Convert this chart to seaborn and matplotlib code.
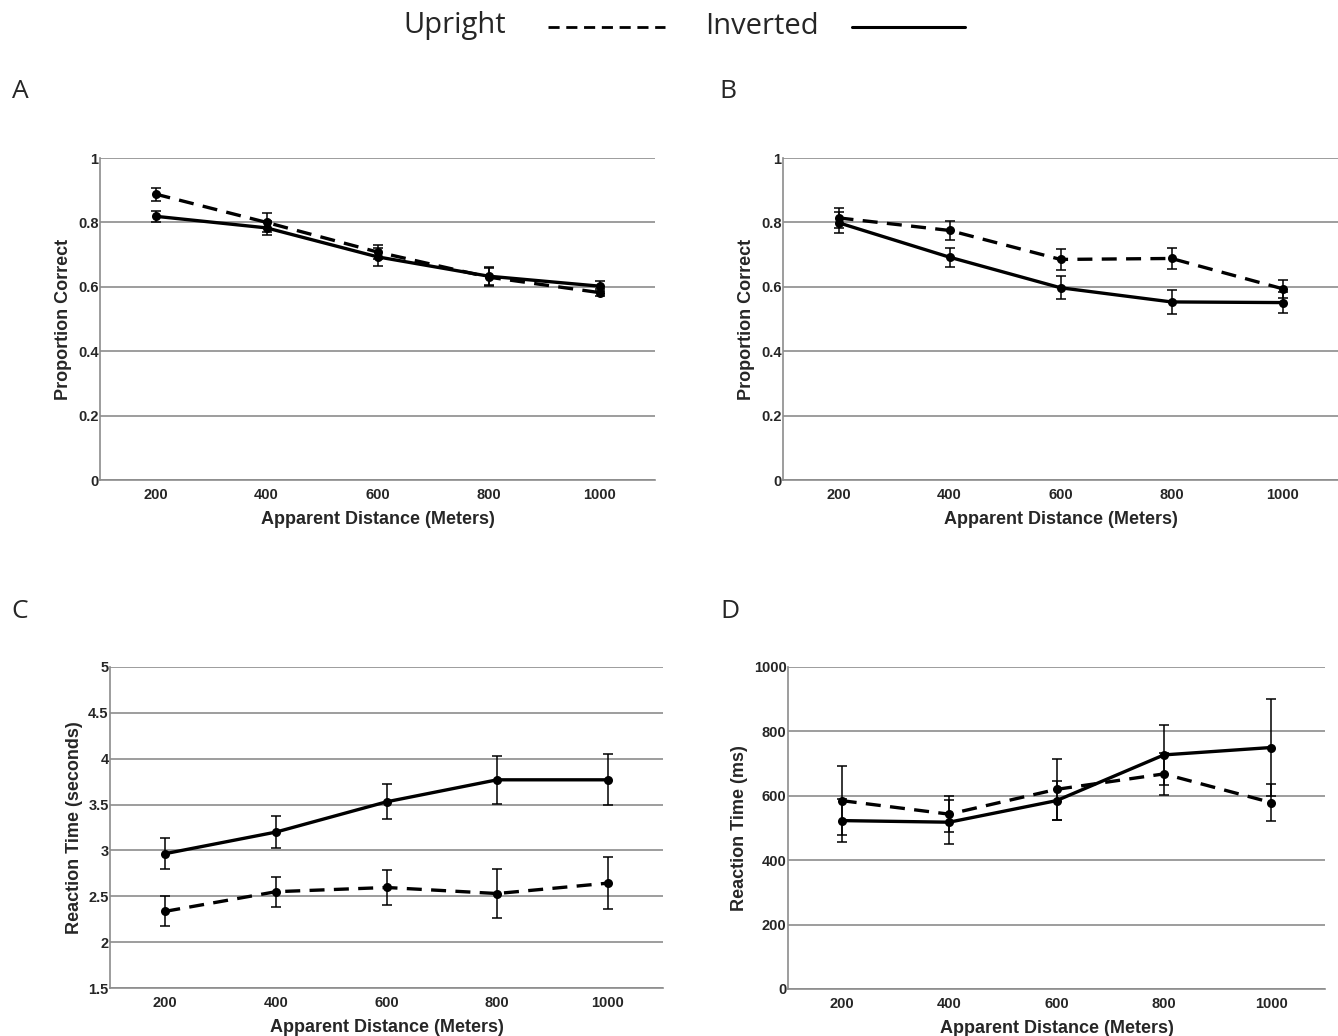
import pandas as pd
import seaborn as sns
import matplotlib.pyplot as plt
from matplotlib.lines import Line2D

distances = [200, 400, 600, 800, 1000]

a_upright = [0.888, 0.800, 0.708, 0.630, 0.582]
a_upright_err = [0.020, 0.030, 0.022, 0.028, 0.012]
a_inverted = [0.819, 0.783, 0.693, 0.633, 0.602]
a_inverted_err = [0.017, 0.022, 0.028, 0.028, 0.015]

b_upright = [0.814, 0.775, 0.685, 0.688, 0.594]
b_upright_err = [0.030, 0.030, 0.033, 0.032, 0.028]
b_inverted = [0.799, 0.692, 0.597, 0.553, 0.551]
b_inverted_err = [0.033, 0.030, 0.036, 0.037, 0.032]

c_upright = [2.336, 2.550, 2.596, 2.530, 2.643]
c_upright_err = [0.165, 0.165, 0.190, 0.265, 0.280]
c_inverted = [2.965, 3.200, 3.530, 3.770, 3.770]
c_inverted_err = [0.170, 0.170, 0.190, 0.260, 0.280]

d_upright = [585, 543, 620, 668, 579]
d_upright_err = [107, 55, 95, 65, 58]
d_inverted = [523, 518, 585, 727, 750]
d_inverted_err = [68, 68, 60, 92, 150]

sns.set_style("white")
plt.rcParams['font.family'] = ['Liberation Sans', 'DejaVu Sans']

TICK_FONT = dict(fontsize=10.5, fontweight='bold')
LABEL_FONT = dict(fontsize=13, fontweight='bold')
GRAY = '#8c8c8c'


def make_frame(up, up_err, inv, inv_err):
    rows = []
    for d, v, e in zip(distances, up, up_err):
        rows.append({'Distance': d, 'Value': v, 'Err': e, 'Orientation': 'Upright'})
    for d, v, e in zip(distances, inv, inv_err):
        rows.append({'Distance': d, 'Value': v, 'Err': e, 'Orientation': 'Inverted'})
    return pd.DataFrame(rows)


def draw_panel(ax, data, ylabel, ylim, yticks, yticklabels):
    for name, grp in data.groupby('Orientation'):
        ax.errorbar(grp['Distance'], grp['Value'], yerr=grp['Err'], fmt='none',
                    ecolor='black', elinewidth=1.1, capsize=3.5, capthick=1.1, zorder=3)
    sns.lineplot(data=data, x='Distance', y='Value', style='Orientation',
                 dashes={'Upright': (4.5, 2.8), 'Inverted': ''},
                 markers={'Upright': 'o', 'Inverted': 'o'},
                 color='black', linewidth=2.4, markersize=6.5, markeredgewidth=0,
                 legend=False, ax=ax, zorder=4)
    ax.set_xlim(100, 1100)
    ax.set_ylim(*ylim)
    ax.set_xticks(distances)
    ax.set_xticklabels([str(d) for d in distances], **TICK_FONT)
    ax.set_yticks(yticks)
    ax.set_yticklabels(yticklabels, **TICK_FONT)
    ax.tick_params(axis='both', length=0, pad=1)
    ax.tick_params(axis='x', pad=6)
    ax.yaxis.grid(True, color=GRAY, linewidth=1.2)
    ax.xaxis.grid(False)
    for side in ['top', 'right']:
        ax.spines[side].set_visible(False)
    for side in ['left', 'bottom']:
        ax.spines[side].set_color(GRAY)
        ax.spines[side].set_linewidth(1.2)
    ax.set_xlabel('Apparent Distance (Meters)', labelpad=6, **LABEL_FONT)
    ax.set_ylabel(ylabel, labelpad=4, **LABEL_FONT)


fig = plt.figure(figsize=(13.38, 10.36), dpi=100)
W, H = 1338, 1036


def add_axes(left, right, top, bottom):
    return fig.add_axes([left / W, 1 - bottom / H, (right - left) / W, (bottom - top) / H])


ax_a = add_axes(100, 655, 158, 480)
ax_b = add_axes(783, 1338, 158, 480)
ax_c = add_axes(110, 663, 667, 988)
ax_d = add_axes(788, 1325, 667, 989)

prop_ticks = [0, 0.2, 0.4, 0.6, 0.8, 1]
prop_labels = ['0', '0.2', '0.4', '0.6', '0.8', '1']
draw_panel(ax_a, make_frame(a_upright, a_upright_err, a_inverted, a_inverted_err),
           'Proportion Correct', (0, 1), prop_ticks, prop_labels)
draw_panel(ax_b, make_frame(b_upright, b_upright_err, b_inverted, b_inverted_err),
           'Proportion Correct', (0, 1), prop_ticks, prop_labels)

rt_ticks = [1.5, 2, 2.5, 3, 3.5, 4, 4.5, 5]
draw_panel(ax_c, make_frame(c_upright, c_upright_err, c_inverted, c_inverted_err),
           'Reaction Time (seconds)', (1.5, 5), rt_ticks, [f'{t:g}' for t in rt_ticks])

ms_ticks = [0, 200, 400, 600, 800, 1000]
draw_panel(ax_d, make_frame(d_upright, d_upright_err, d_inverted, d_inverted_err),
           'Reaction Time (ms)', (0, 1000), ms_ticks, [str(t) for t in ms_ticks])

# panel letters
big = dict(fontsize=19, family=['Open Sans', 'DejaVu Sans'], va='center', ha='center')
fig.text(20 / W, 1 - 92 / H, 'A', **big)
fig.text(728 / W, 1 - 92 / H, 'B', **big)
fig.text(20 / W, 1 - 611 / H, 'C', **big)
fig.text(730 / W, 1 - 611 / H, 'D', **big)

# legend across the top
leg = dict(big, fontsize=21)
fig.text(455 / W, 1 - 26 / H, 'Upright', **leg)
fig.text(762 / W, 1 - 26 / H, 'Inverted', **leg)
fig.add_artist(Line2D([548 / W, 665 / W], [1 - 27 / H, 1 - 27 / H], transform=fig.transFigure,
                      color='black', linewidth=2, linestyle=(0, (4, 2.4))))
fig.add_artist(Line2D([852 / W, 965 / W], [1 - 27 / H, 1 - 27 / H], transform=fig.transFigure,
                      color='black', linewidth=2.2))

fig.savefig('out.png', dpi=100)
